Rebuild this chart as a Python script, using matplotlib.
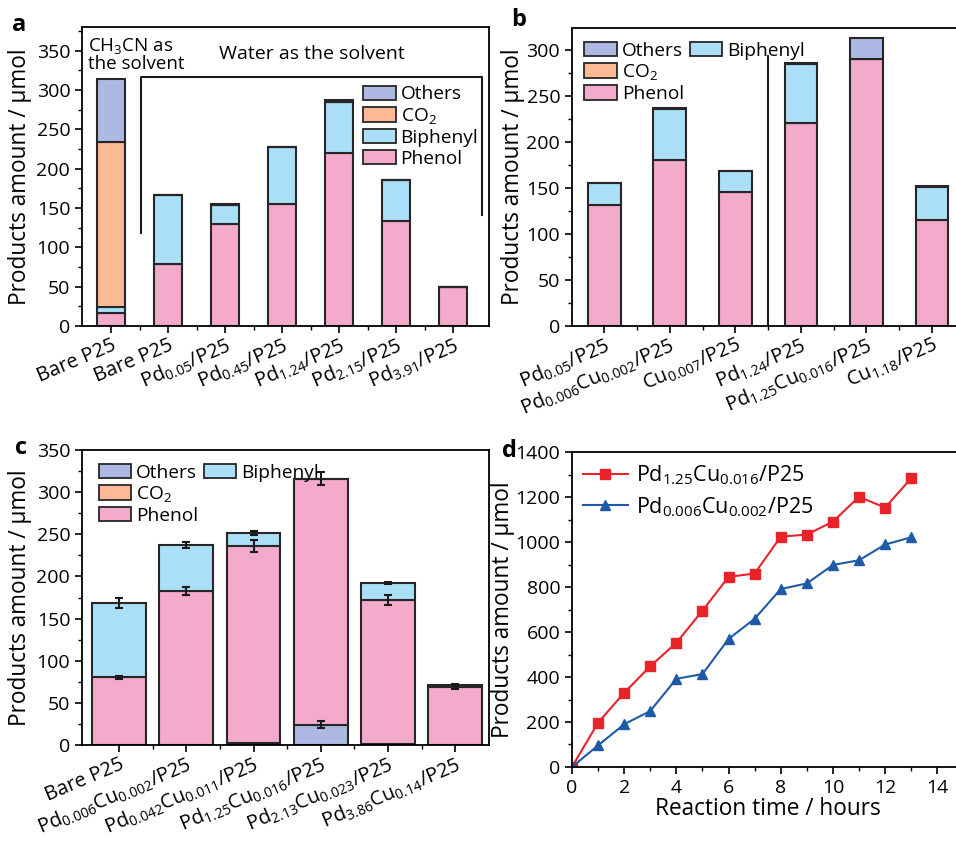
import numpy as np
import matplotlib
matplotlib.use("Agg")
import matplotlib.pyplot as plt
from matplotlib.patches import Patch
from matplotlib.ticker import MultipleLocator

plt.rcParams["font.family"] = ["Open Sans", "DejaVu Sans"]
plt.rcParams["mathtext.fontset"] = "custom"
plt.rcParams["mathtext.rm"] = "Open Sans"
plt.rcParams["mathtext.it"] = "Open Sans"
plt.rcParams["mathtext.bf"] = "Open Sans:bold"
plt.rcParams["mathtext.default"] = "regular"
plt.rcParams["axes.linewidth"] = 1.3
plt.rcParams["xtick.direction"] = "out"
plt.rcParams["ytick.direction"] = "out"

# ---------------- data ----------------
# panel a
a_labels = ["Bare P25", "Bare P25", "Pd$_{0.05}$/P25", "Pd$_{0.45}$/P25",
            "Pd$_{1.24}$/P25", "Pd$_{2.15}$/P25", "Pd$_{3.91}$/P25"]
a_phenol = [16, 79, 130, 155, 220, 134, 49]
a_biphenyl = [8, 87, 24, 72, 65, 51, 0]
a_co2 = [210, 0, 0, 0, 0, 0, 0]
a_others = [80, 0, 1, 1, 2, 1, 1]

# panel b
b_labels = ["Pd$_{0.05}$/P25", "Pd$_{0.006}$Cu$_{0.002}$/P25", "Cu$_{0.007}$/P25",
            "Pd$_{1.24}$/P25", "Pd$_{1.25}$Cu$_{0.016}$/P25", "Cu$_{1.18}$/P25"]
b_phenol = [131, 181, 146, 221, 290, 115]
b_biphenyl = [24, 55, 22, 64, 0, 36]
b_others = [1, 1, 1, 1, 23, 1]

# panel c (others at bottom, then phenol, then biphenyl)
c_labels = ["Bare P25", "Pd$_{0.006}$Cu$_{0.002}$/P25", "Pd$_{0.042}$Cu$_{0.011}$/P25",
            "Pd$_{1.25}$Cu$_{0.016}$/P25", "Pd$_{2.13}$Cu$_{0.023}$/P25",
            "Pd$_{3.86}$Cu$_{0.14}$/P25"]
c_others = [0.5, 0.5, 2, 24, 1, 0.5]
c_phenol = [80, 182, 234, 292, 171, 68]
c_biphenyl = [88, 55, 16, 0, 20, 3]
c_others_err = [0, 0, 0, 4, 0, 0]
c_phenol_err = [2, 5, 7, 8, 5.5, 2]
c_biphenyl_err = [6, 3.5, 2.5, 0, 1.5, 1]

# panel d
d_time = [0, 1, 2, 3, 4, 5, 6, 7, 8, 9, 10, 11, 12, 13]
d_pdcu_hi = [0, 197, 330, 448, 552, 695, 845, 860, 1024, 1033, 1091, 1201, 1153, 1284]
d_pdcu_lo = [0, 96, 190, 249, 392, 413, 569, 659, 791, 816, 898, 919, 989, 1021]

C_OTHERS = "#adb9e3"
C_CO2 = "#fbb994"
C_BIPH = "#aadff7"
C_PHEN = "#f3aacb"
EDGE = "#262626"
TFS = 14      # tick labels
XFS = 14.4    # rotated category labels
LFS = 16.3    # axis labels
LEGFS = 13.8

fig = plt.figure(figsize=(9.56, 8.41), dpi=100)


def style_bar_axis(ax, labels, xlim, lpad=3):
    ax.set_xticks(np.arange(len(labels)))
    ax.set_xticklabels(labels, rotation=23, ha="right", rotation_mode="anchor",
                       fontsize=XFS)
    ax.set_xticks(np.arange(len(labels) - 1) + 0.5, minor=True)
    ax.set_xlim(*xlim)
    ax.tick_params(axis="both", which="major", length=5, width=1.2, labelsize=TFS)
    ax.tick_params(axis="x", which="major", labelsize=XFS, pad=1.5)
    ax.tick_params(axis="both", which="minor", length=3, width=1.0)
    ax.set_ylabel("Products amount / μmol", fontsize=LFS, labelpad=lpad)


def bar_legend(ax, handles, labels, ncol, **kw):
    return ax.legend(handles, labels, ncol=ncol, frameon=False, fontsize=LEGFS,
                     handlelength=1.7, handleheight=0.78, handletextpad=0.25,
                     labelspacing=0.14, columnspacing=0.3, borderaxespad=0, **kw)


def patch(c):
    return Patch(facecolor=c, edgecolor=EDGE, linewidth=1.3)


blank = Patch(facecolor="none", edgecolor="none")

# ---------------- panel a ----------------
ax = fig.add_axes([0.0858, 0.6124, 0.4257, 0.3555])
x = np.arange(len(a_labels))
bot = np.zeros(len(x))
for vals, col in [(a_phenol, C_PHEN), (a_biphenyl, C_BIPH), (a_co2, C_CO2), (a_others, C_OTHERS)]:
    ax.bar(x, vals, 0.5, bottom=bot, color=col, edgecolor=EDGE, linewidth=1.5)
    bot = bot + np.array(vals)
ax.set_ylim(0, 380)
ax.yaxis.set_major_locator(MultipleLocator(50))
ax.yaxis.set_minor_locator(MultipleLocator(25))
style_bar_axis(ax, a_labels, (-0.51, 6.63))
ax.set_yticks(np.arange(0, 351, 50))
# bracket for water group
ax.plot([0.53, 0.53, 6.5, 6.5], [118, 317, 317, 141], color="#1a1a1a", lw=1.5, clip_on=False)
ax.text(-0.4, 369, "CH$_3$CN as\nthe solvent", fontsize=13.5, va="top", ha="left",
        linespacing=0.95)
ax.text(3.53, 346, "Water as the solvent", fontsize=14, va="center", ha="center")
bar_legend(ax, [patch(C_OTHERS), patch(C_CO2), patch(C_BIPH), patch(C_PHEN)],
           ["Others", "CO$_2$", "Biphenyl", "Phenol"], 1,
           loc="upper left", bbox_to_anchor=(0.672, 0.83))
fig.text(0.013, 0.985, "a", fontsize=17, fontweight="bold", va="top")

# ---------------- panel b ----------------
ax = fig.add_axes([0.5983, 0.6124, 0.411, 0.3543])
x = np.arange(len(b_labels))
bot = np.zeros(len(x))
for vals, col in [(b_phenol, C_PHEN), (b_biphenyl, C_BIPH), (b_others, C_OTHERS)]:
    ax.bar(x, vals, 0.5, bottom=bot, color=col, edgecolor=EDGE, linewidth=1.5)
    bot = bot + np.array(vals)
ax.set_ylim(0, 324)
ax.yaxis.set_major_locator(MultipleLocator(50))
ax.yaxis.set_minor_locator(MultipleLocator(25))
style_bar_axis(ax, b_labels, (-0.49, 5.5), lpad=1)
ax.plot([2.5, 2.5], [0, 294], color="#1a1a1a", lw=1.5)
bar_legend(ax, [patch(C_OTHERS), patch(C_CO2), patch(C_PHEN), patch(C_BIPH), blank, blank],
           ["Others", "CO$_2$", "Phenol", "Biphenyl", "", ""], 2,
           loc="upper left", bbox_to_anchor=(0.012, 0.98))
fig.text(0.535, 0.99, "b", fontsize=17, fontweight="bold", va="top")

# ---------------- panel c ----------------
ax = fig.add_axes([0.0858, 0.1141, 0.4257, 0.3508])
x = np.arange(len(c_labels))
bot = np.zeros(len(x))
for vals, err, col in [(c_others, c_others_err, C_OTHERS), (c_phenol, c_phenol_err, C_PHEN),
                       (c_biphenyl, c_biphenyl_err, C_BIPH)]:
    ax.bar(x, vals, 0.8, bottom=bot, color=col, edgecolor=EDGE, linewidth=1.5)
    top = bot + np.array(vals)
    e = np.array(err)
    m = e > 0
    ax.errorbar(x[m], top[m], yerr=e[m], fmt="none", ecolor="#1a1a1a", elinewidth=1.5,
                capsize=3, capthick=1.5, zorder=5)
    bot = top
ax.set_ylim(0, 350)
ax.yaxis.set_major_locator(MultipleLocator(50))
ax.yaxis.set_minor_locator(MultipleLocator(25))
style_bar_axis(ax, c_labels, (-0.55, 5.5))
bar_legend(ax, [patch(C_OTHERS), patch(C_CO2), patch(C_PHEN), patch(C_BIPH), blank, blank],
           ["Others", "CO$_2$", "Phenol", "Biphenyl", "", ""], 2,
           loc="upper left", bbox_to_anchor=(0.022, 0.98))
fig.text(0.016, 0.482, "c", fontsize=17, fontweight="bold", va="top")

# ---------------- panel d ----------------
ax = fig.add_axes([0.5983, 0.088, 0.4095, 0.3745])
ax.plot(d_time, d_pdcu_hi, "-s", color="#e8232a", ms=6.5, lw=1.5,
        label="Pd$_{1.25}$Cu$_{0.016}$/P25")
ax.plot(d_time, d_pdcu_lo, "-^", color="#1f5aa8", ms=7.5, lw=1.5,
        label="Pd$_{0.006}$Cu$_{0.002}$/P25")
ax.set_xlim(0, 15)
ax.set_ylim(0, 1400)
ax.set_xticks(np.arange(0, 15, 2))
ax.xaxis.set_minor_locator(MultipleLocator(1))
ax.yaxis.set_major_locator(MultipleLocator(200))
ax.yaxis.set_minor_locator(MultipleLocator(100))
ax.tick_params(axis="both", which="major", length=5, width=1.2, labelsize=TFS)
ax.tick_params(axis="both", which="minor", length=3, width=1.0)
ax.set_xlabel("Reaction time / hours", fontsize=LFS, labelpad=0)
ax.set_ylabel("Products amount / μmol", fontsize=LFS, labelpad=0)
ax.legend(frameon=False, fontsize=15.5, handlelength=2.1, handletextpad=0.4,
          labelspacing=0.35, loc="upper left", bbox_to_anchor=(0.005, 0.99),
          borderaxespad=0)
fig.text(0.525, 0.478, "d", fontsize=17, fontweight="bold", va="top")

fig.savefig("out.png", dpi=100)
